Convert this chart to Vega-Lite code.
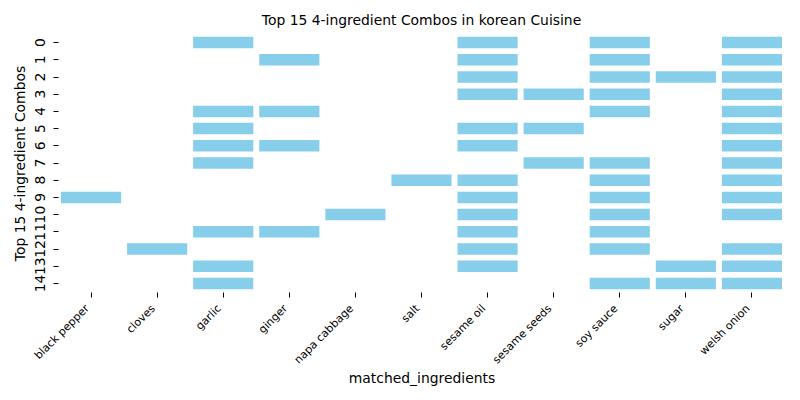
{
  "$schema": "https://vega.github.io/schema/vega-lite/v6.json",
  "autosize": {"type": "none"},
  "width": 727,
  "height": 258,
  "padding": {"left": 58, "top": 34, "right": 15, "bottom": 108},
  "background": "white",
  "title": {"text": "Top 15 4-ingredient Combos in korean Cuisine", "font": "DejaVu Sans", "fontSize": 13.9, "fontWeight": "normal", "color": "black", "offset": 6, "anchor": "middle"},
  "config": {"view": {"stroke": null}, "font": "DejaVu Sans"},
  "data": {"values": [
    {"combo": 0, "ingredient": "garlic"}, {"combo": 0, "ingredient": "sesame oil"}, {"combo": 0, "ingredient": "soy sauce"}, {"combo": 0, "ingredient": "welsh onion"},
    {"combo": 1, "ingredient": "ginger"}, {"combo": 1, "ingredient": "sesame oil"}, {"combo": 1, "ingredient": "soy sauce"}, {"combo": 1, "ingredient": "welsh onion"},
    {"combo": 2, "ingredient": "sesame oil"}, {"combo": 2, "ingredient": "soy sauce"}, {"combo": 2, "ingredient": "sugar"}, {"combo": 2, "ingredient": "welsh onion"},
    {"combo": 3, "ingredient": "sesame oil"}, {"combo": 3, "ingredient": "sesame seeds"}, {"combo": 3, "ingredient": "soy sauce"}, {"combo": 3, "ingredient": "welsh onion"},
    {"combo": 4, "ingredient": "garlic"}, {"combo": 4, "ingredient": "ginger"}, {"combo": 4, "ingredient": "soy sauce"}, {"combo": 4, "ingredient": "welsh onion"},
    {"combo": 5, "ingredient": "garlic"}, {"combo": 5, "ingredient": "sesame oil"}, {"combo": 5, "ingredient": "sesame seeds"}, {"combo": 5, "ingredient": "welsh onion"},
    {"combo": 6, "ingredient": "garlic"}, {"combo": 6, "ingredient": "ginger"}, {"combo": 6, "ingredient": "sesame oil"}, {"combo": 6, "ingredient": "welsh onion"},
    {"combo": 7, "ingredient": "garlic"}, {"combo": 7, "ingredient": "sesame seeds"}, {"combo": 7, "ingredient": "soy sauce"}, {"combo": 7, "ingredient": "welsh onion"},
    {"combo": 8, "ingredient": "salt"}, {"combo": 8, "ingredient": "sesame oil"}, {"combo": 8, "ingredient": "soy sauce"}, {"combo": 8, "ingredient": "welsh onion"},
    {"combo": 9, "ingredient": "black pepper"}, {"combo": 9, "ingredient": "sesame oil"}, {"combo": 9, "ingredient": "soy sauce"}, {"combo": 9, "ingredient": "welsh onion"},
    {"combo": 10, "ingredient": "napa cabbage"}, {"combo": 10, "ingredient": "sesame oil"}, {"combo": 10, "ingredient": "soy sauce"}, {"combo": 10, "ingredient": "welsh onion"},
    {"combo": 11, "ingredient": "garlic"}, {"combo": 11, "ingredient": "ginger"}, {"combo": 11, "ingredient": "sesame oil"}, {"combo": 11, "ingredient": "soy sauce"},
    {"combo": 12, "ingredient": "cloves"}, {"combo": 12, "ingredient": "sesame oil"}, {"combo": 12, "ingredient": "soy sauce"}, {"combo": 12, "ingredient": "welsh onion"},
    {"combo": 13, "ingredient": "garlic"}, {"combo": 13, "ingredient": "sesame oil"}, {"combo": 13, "ingredient": "sugar"}, {"combo": 13, "ingredient": "welsh onion"},
    {"combo": 14, "ingredient": "garlic"}, {"combo": 14, "ingredient": "soy sauce"}, {"combo": 14, "ingredient": "sugar"}, {"combo": 14, "ingredient": "welsh onion"}
  ]},
  "mark": {"type": "rect", "color": "#87CEEB"},
  "encoding": {
    "x": {
      "field": "ingredient", "type": "nominal",
      "scale": {"domain": ["black pepper", "cloves", "garlic", "ginger", "napa cabbage", "salt", "sesame oil", "sesame seeds", "soy sauce", "sugar", "welsh onion"], "paddingInner": 0.09, "paddingOuter": 0.045},
      "axis": {"title": "matched_ingredients", "titleFontSize": 13.9, "titleFontWeight": "normal", "titleColor": "black", "titlePadding": 6,
               "labelAngle": -45, "labelAlign": "right", "labelBaseline": "bottom", "labelFontSize": 11, "labelColor": "black", "labelPadding": 13,
               "domain": false, "tickColor": "black", "tickSize": 5, "tickWidth": 1, "grid": false}
    },
    "y": {
      "field": "combo", "type": "ordinal",
      "scale": {"paddingInner": 0.33, "paddingOuter": 0.165},
      "axis": {"title": "Top 15 4-ingredient Combos", "titleFontSize": 13.9, "titleFontWeight": "normal", "titleColor": "black", "titlePadding": 6,
               "labelAngle": -90, "labelAlign": "center", "labelBaseline": "bottom", "labelFontSize": 13.9, "labelColor": "black", "labelPadding": 6,
               "domain": false, "tickColor": "black", "tickSize": 5, "tickWidth": 1, "grid": false}
    }
  }
}
